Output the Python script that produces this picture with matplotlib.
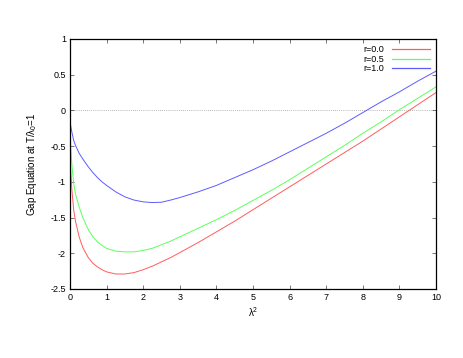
import matplotlib
matplotlib.use("Agg")
import matplotlib.pyplot as plt

x = [0.0, 0.02, 0.05, 0.1, 0.15, 0.25, 0.35, 0.5, 0.625, 0.75, 0.875, 1.0, 1.25, 1.5,
     1.75, 2.0, 2.25, 2.5, 2.75, 3.0, 3.25, 3.5, 3.75, 4.0, 4.25, 4.5, 5.0, 5.5, 6.0,
     6.5, 7.0, 7.5, 8.0, 8.5, 9.0, 9.5, 10.0]
r00 = [-0.50, -0.85, -1.10, -1.39, -1.55, -1.77, -1.92, -2.06, -2.14, -2.19, -2.23,
       -2.26, -2.29, -2.29, -2.27, -2.23, -2.18, -2.12, -2.06, -1.99, -1.92, -1.85,
       -1.775, -1.70, -1.625, -1.55, -1.39, -1.23, -1.07, -0.91, -0.75, -0.59, -0.43,
       -0.26, -0.09, 0.08, 0.25]
r05 = [-0.22, -0.50, -0.75, -1.02, -1.17, -1.35, -1.50, -1.67, -1.77, -1.84, -1.89,
       -1.93, -1.97, -1.98, -1.98, -1.96, -1.93, -1.88, -1.83, -1.77, -1.71, -1.65,
       -1.59, -1.53, -1.465, -1.40, -1.26, -1.12, -0.97, -0.81, -0.65, -0.49, -0.32,
       -0.16, 0.01, 0.17, 0.33]
r10 = [-0.14, -0.22, -0.30, -0.42, -0.49, -0.60, -0.68, -0.79, -0.87, -0.94, -1.00,
       -1.05, -1.14, -1.21, -1.255, -1.28, -1.29, -1.285, -1.255, -1.22, -1.18, -1.14,
       -1.095, -1.05, -0.995, -0.94, -0.83, -0.71, -0.58, -0.45, -0.32, -0.18, -0.03,
       0.12, 0.26, 0.41, 0.55]
labels = ["r=0.0", "r=0.5", "r=1.0"]
colors = ["#ff5c5c", "#5cff5c", "#5c5cff"]

xticks = list(range(0, 11))
yticks = [-2.5, -2, -1.5, -1, -0.5, 0, 0.5, 1]
ytick_labels = ["-2.5", "-2", "-1.5", "-1", "-0.5", "0", "0.5", "1"]

plt.rcParams['font.family'] = ['Liberation Sans', 'DejaVu Sans']
plt.rcParams['mathtext.fontset'] = 'custom'
plt.rcParams['mathtext.rm'] = 'Liberation Sans'
plt.rcParams['mathtext.it'] = 'Liberation Sans'
fig = plt.figure(figsize=(4.63, 3.58), dpi=100)
ax = fig.add_axes([70/463, 1-289/358, (436-70)/463, (289-39)/358])

ax.axhline(0, color='#a0a0a0', lw=0.6, ls=(0, (1, 1.5)), zorder=1)
for ys, lab, c in zip([r00, r05, r10], labels, colors):
    ax.plot(x, ys, color=c, lw=0.7, label=lab)

ax.set_xlim(0, 10)
ax.set_ylim(-2.5, 1)
ax.set_xticks(xticks)
ax.set_xticklabels([str(t) for t in xticks])
ax.set_yticks(yticks)
ax.set_yticklabels(ytick_labels)
ax.tick_params(direction='in', length=3, width=0.5, labelsize=6.5, top=True, right=True,
               colors='#404040', labelcolor='black', pad=3)
for s in ax.spines.values():
    s.set_linewidth(0.9)
ax.set_xlabel("λ$^2$", fontsize=7, labelpad=2)
ax.set_ylabel("Gap Equation at T/λ$_0$=1", fontsize=7, labelpad=8)

leg = ax.legend(loc='upper right', fontsize=6.5, frameon=False, markerfirst=False,
                handlelength=4.2, handletextpad=0.8, labelspacing=0.05,
                borderaxespad=0.3)
for t in leg.get_texts():
    t.set_ha('right')
for ln, c in zip(leg.get_lines(), colors):
    ln.set_color(c)
    ln.set_linewidth(0.9)

fig.savefig("out.png", dpi=100)
